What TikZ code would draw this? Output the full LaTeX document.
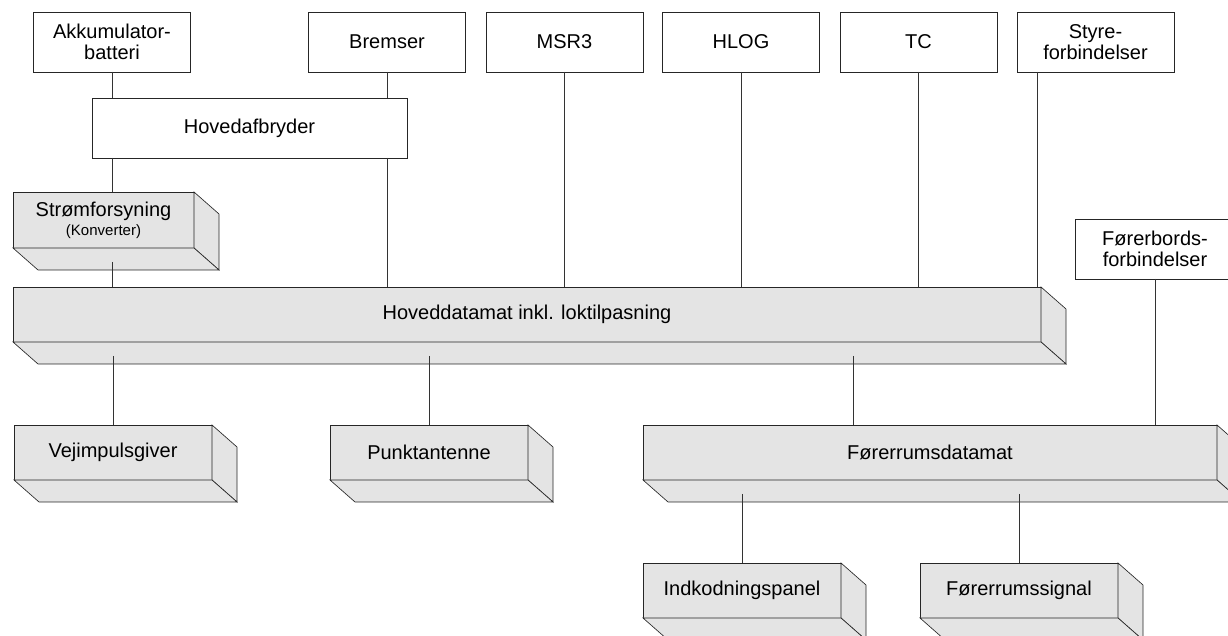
\documentclass[tikz,border=0pt]{standalone}
\usepackage{fontspec}
\setmainfont{Liberation Sans}
\usepackage{tikz}

\definecolor{slabgray}{RGB}{228,228,228}

\tikzset{
    unit/.style={draw=black!85, line width=0.65pt, outer sep=0pt, inner sep=2pt,
        align=center, font=\fontsize{20}{21}\selectfont},
    plainbox/.style={unit, fill=white, minimum height=60pt},
    slab/.style={unit, fill=slabgray, minimum height=55pt},
    slab face/.style={draw=black!85, line width=0.65pt, fill=slabgray, line join=miter},
    wire/.style={draw=black!80, line width=0.5pt}
}

% side and bottom face of a box seen from below, plus the middle of its bottom face
\newcommand{\drawslab}[1]{%
    \filldraw[slab face] (#1.north east) -- ++(25,-22) -- ([shift={(25,-22)}]#1.south east)
        -- (#1.south east) -- cycle;
    \filldraw[slab face] (#1.south west) -- (#1.south east) -- ++(25,-22)
        -- ([shift={(25,-22)}]#1.south west) -- cycle;
    \coordinate (#1-b) at ([yshift=-14pt]#1.south);
}

\begin{document}
\begin{tikzpicture}[x=1pt, y=1pt]
    \useasboundingbox (0,0) rectangle (1228,636);

    % top row
    \node[plainbox, minimum width=157pt] (akku)  at (112,594)    {Akkumulator-\\batteri};
    \node[plainbox, minimum width=157pt] (brems) at (387,594)    {Bremser};
    \node[plainbox, minimum width=157pt] (msr)   at (564.5,594)  {MSR3};
    \node[plainbox, minimum width=157pt] (hlog)  at (741,594)    {HLOG};
    \node[plainbox, minimum width=157pt] (tc)    at (918.5,594)  {TC};
    \node[plainbox, minimum width=157pt] (styre) at (1095.5,594) {Styre-\\forbindelser};

    \node[plainbox, minimum width=315pt] (hovafb)  at (249.5,508) {Hovedafbryder};
    \node[plainbox, minimum width=160pt] (forbord) at (1155,387)  {Førerbords-\\forbindelser};

    % computers
    \node[slab, minimum width=181pt, minimum height=56pt] (strom) at (103.5,416)
        {Strømforsyning\\[-2pt]{\fontsize{15}{16}\selectfont(Konverter)}};
    \node[slab, minimum width=1028pt] (hovdat) at (527,321.5)  {Hoveddatamat inkl. loktilpasning};
    \node[slab, minimum width=198pt]  (vej)    at (113,183.5)  {Vejimpulsgiver};
    \node[slab, minimum width=198pt]  (punkt)  at (429,183.5)  {Punktantenne};
    \node[slab, minimum width=574pt]  (frdat)  at (930,183.5)  {Førerrumsdatamat};
    \node[slab, minimum width=198pt]  (indk)   at (742,45.5)   {Indkodningspanel};
    \node[slab, minimum width=198pt]  (frsig)  at (1019,45.5)  {Førerrumssignal};

    \foreach \n in {strom, hovdat, vej, punkt, frdat, indk, frsig}
        \drawslab{\n};

    \coordinate (styre-out) at ([xshift=-58.5pt]styre.south);
    \coordinate (frdat-in)  at ([xshift=-77pt]frdat.north);

    % connections
    \draw[wire] (akku.south) -- (hovafb.north -| akku.south);
    \draw[wire] (hovafb.south -| akku.south) -- (strom.north -| akku.south);
    \draw[wire] (strom-b -| akku.south) -- (hovdat.north -| akku.south);
    \draw[wire] (brems.south) -- (hovafb.north -| brems.south);
    \draw[wire] (hovafb.south -| brems.south) -- (hovdat.north -| brems.south);
    \foreach \n in {msr, hlog, tc}
        \draw[wire] (\n.south) -- (hovdat.north -| \n.south);
    \draw[wire] (styre-out) -- (styre-out |- hovdat.north);
    \draw[wire] (forbord.south) -- (frdat.north -| forbord.south);

    \draw[wire] (hovdat-b -| vej.north) -- (vej.north);
    \draw[wire] (hovdat-b -| punkt.north) -- (punkt.north);
    \draw[wire] (frdat-in |- hovdat-b) -- (frdat-in);
    \draw[wire] (frdat-b -| indk.north) -- (indk.north);
    \draw[wire] (frdat-b -| frsig.north) -- (frsig.north);
\end{tikzpicture}
\end{document}
